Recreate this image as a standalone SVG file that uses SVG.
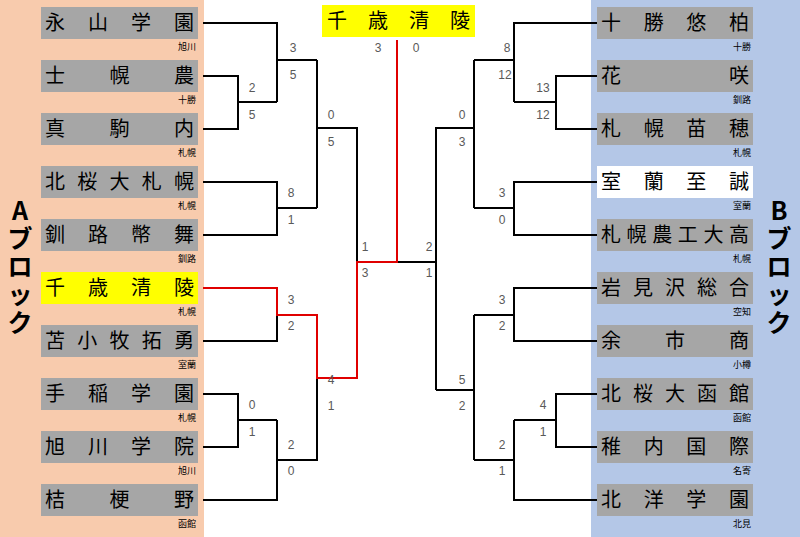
<svg xmlns="http://www.w3.org/2000/svg" width="800" height="537" viewBox="0 0 800 537">
<style>
.n{font-family:"Noto Sans CJK JP",sans-serif;font-size:20px;fill:#000}
.s{font-family:"Noto Sans CJK JP",sans-serif;font-size:9px;fill:#000;text-anchor:end}
.c{font-family:"Liberation Sans",sans-serif;font-size:12px;fill:#595959;text-anchor:middle}
.b{font-family:"Noto Sans CJK JP",sans-serif;font-size:25px;font-weight:bold;fill:#000;text-anchor:middle}
.l{fill:none;stroke:#000;stroke-width:2}
.r{fill:none;stroke:#e00000;stroke-width:2}
.g{fill:#a6a6a6}
</style>
<rect x="0" y="0" width="204" height="537" fill="#f8cbad"/>
<rect x="591" y="0" width="209" height="537" fill="#b4c7e7"/>
<g id="blockA"><text class="b" x="20" y="220">A</text><text class="b" x="20" y="248">ブ</text><text class="b" x="20" y="276">ロ</text><text class="b" x="20" y="304">ッ</text><text class="b" x="20" y="332">ク</text></g>
<g id="blockB"><text class="b" x="779" y="220">B</text><text class="b" x="779" y="248">ブ</text><text class="b" x="779" y="276">ロ</text><text class="b" x="779" y="304">ッ</text><text class="b" x="779" y="332">ク</text></g>
<g id="champ"><rect x="322" y="5" width="153" height="32" fill="#ffff00"/><text class="n" x="327" y="28" textLength="143" lengthAdjust="spacing">千歳清陵</text></g>
<g id="L1"><rect class="g" x="41" y="7" width="157" height="32"/><text class="n" x="45" y="30" textLength="149" lengthAdjust="spacing">永山学園</text><text class="s" x="196" y="50">旭川</text></g>
<g id="L2"><rect class="g" x="41" y="60" width="157" height="32"/><text class="n" x="45" y="83" textLength="149" lengthAdjust="spacing">士幌農</text><text class="s" x="196" y="103">十勝</text></g>
<g id="L3"><rect class="g" x="41" y="113" width="157" height="32"/><text class="n" x="45" y="136" textLength="149" lengthAdjust="spacing">真駒内</text><text class="s" x="196" y="156">札幌</text></g>
<g id="L4"><rect class="g" x="41" y="166" width="157" height="32"/><text class="n" x="45" y="189" textLength="149" lengthAdjust="spacing">北桜大札幌</text><text class="s" x="196" y="209">札幌</text></g>
<g id="L5"><rect class="g" x="41" y="219" width="157" height="32"/><text class="n" x="45" y="242" textLength="149" lengthAdjust="spacing">釧路幣舞</text><text class="s" x="196" y="262">釧路</text></g>
<g id="L6"><rect x="41" y="272" width="157" height="32" fill="#ffff00"/><text class="n" x="45" y="295" textLength="149" lengthAdjust="spacing">千歳清陵</text><text class="s" x="196" y="315">札幌</text></g>
<g id="L7"><rect class="g" x="41" y="325" width="157" height="32"/><text class="n" x="45" y="348" textLength="149" lengthAdjust="spacing">苫小牧拓勇</text><text class="s" x="196" y="368">室蘭</text></g>
<g id="L8"><rect class="g" x="41" y="378" width="157" height="32"/><text class="n" x="45" y="401" textLength="149" lengthAdjust="spacing">手稲学園</text><text class="s" x="196" y="421">札幌</text></g>
<g id="L9"><rect class="g" x="41" y="431" width="157" height="32"/><text class="n" x="45" y="454" textLength="149" lengthAdjust="spacing">旭川学院</text><text class="s" x="196" y="474">旭川</text></g>
<g id="L10"><rect class="g" x="41" y="484" width="157" height="32"/><text class="n" x="45" y="507" textLength="149" lengthAdjust="spacing">桔梗野</text><text class="s" x="196" y="527">函館</text></g>
<g id="R1"><rect class="g" x="597" y="7" width="156" height="32"/><text class="n" x="601" y="30" textLength="148" lengthAdjust="spacing">十勝悠柏</text><text class="s" x="751" y="50">十勝</text></g>
<g id="R2"><rect class="g" x="597" y="60" width="156" height="32"/><text class="n" x="601" y="83" textLength="148" lengthAdjust="spacing">花咲</text><text class="s" x="751" y="103">釧路</text></g>
<g id="R3"><rect class="g" x="597" y="113" width="156" height="32"/><text class="n" x="601" y="136" textLength="148" lengthAdjust="spacing">札幌苗穂</text><text class="s" x="751" y="156">札幌</text></g>
<g id="R4"><rect x="597" y="166" width="156" height="32" fill="#fff"/><text class="n" x="601" y="189" textLength="148" lengthAdjust="spacing">室蘭至誠</text><text class="s" x="751" y="209">室蘭</text></g>
<g id="R5"><rect class="g" x="597" y="219" width="156" height="32"/><text class="n" x="601" y="242" textLength="148" lengthAdjust="spacing">札幌農工大高</text><text class="s" x="751" y="262">札幌</text></g>
<g id="R6"><rect class="g" x="597" y="272" width="156" height="32"/><text class="n" x="601" y="295" textLength="148" lengthAdjust="spacing">岩見沢総合</text><text class="s" x="751" y="315">空知</text></g>
<g id="R7"><rect class="g" x="597" y="325" width="156" height="32"/><text class="n" x="601" y="348" textLength="148" lengthAdjust="spacing">余市商</text><text class="s" x="751" y="368">小樽</text></g>
<g id="R8"><rect class="g" x="597" y="378" width="156" height="32"/><text class="n" x="601" y="401" textLength="148" lengthAdjust="spacing">北桜大函館</text><text class="s" x="751" y="421">函館</text></g>
<g id="R9"><rect class="g" x="597" y="431" width="156" height="32"/><text class="n" x="601" y="454" textLength="148" lengthAdjust="spacing">稚内国際</text><text class="s" x="751" y="474">名寄</text></g>
<g id="R10"><rect class="g" x="597" y="484" width="156" height="32"/><text class="n" x="601" y="507" textLength="148" lengthAdjust="spacing">北洋学園</text><text class="s" x="751" y="527">北見</text></g>
<g id="connectors">
<path class="l" d="M203 76H238V129H203M238 102H277M203 23H277V102M277 60H317M203 182H277V235H203M277 208H317M317 60V208M317 128H357V262"/>
<path class="l" d="M203 341H277V315M203 394H238V447H203M238 420H277M203 500H277V420M277 460H317V378M357 262H436"/>
<path class="r" d="M203 288H277V315H317V378H357V262H397V40"/>
<path class="l" d="M597 76H556V129H597M556 102H514M597 23H514V102M514 60H474M597 182H514V235H597M514 208H474M474 60V208M474 128H436V390"/>
<path class="l" d="M597 288H514V341H597M514 315H474M597 394H556V447H597M556 420H514M597 500H514V420M514 460H474M474 315V460M474 390H436"/>
</g>
<g id="scores">
<text class="c" x="293" y="52">3</text><text class="c" x="293" y="79">5</text>
<text class="c" x="252" y="92">2</text><text class="c" x="252" y="119">5</text>
<text class="c" x="291" y="197">8</text><text class="c" x="291" y="224">1</text>
<text class="c" x="331" y="119">0</text><text class="c" x="331" y="146">5</text>
<text class="c" x="291" y="304">3</text><text class="c" x="291" y="330">2</text>
<text class="c" x="252" y="409">0</text><text class="c" x="252" y="436">1</text>
<text class="c" x="291" y="449">2</text><text class="c" x="291" y="475">0</text>
<text class="c" x="331" y="384">4</text><text class="c" x="331" y="410">1</text>
<text class="c" x="365" y="251">1</text><text class="c" x="365" y="277">3</text>
<text class="c" x="429" y="251">2</text><text class="c" x="429" y="277">1</text>
<text class="c" x="378" y="52">3</text><text class="c" x="416" y="52">0</text>
<text class="c" x="507" y="52">8</text><text class="c" x="505" y="79">12</text>
<text class="c" x="543" y="92">13</text><text class="c" x="543" y="119">12</text>
<text class="c" x="502" y="197">3</text><text class="c" x="502" y="224">0</text>
<text class="c" x="462" y="119">0</text><text class="c" x="462" y="146">3</text>
<text class="c" x="502" y="304">3</text><text class="c" x="502" y="330">2</text>
<text class="c" x="543" y="409">4</text><text class="c" x="543" y="436">1</text>
<text class="c" x="502" y="449">2</text><text class="c" x="502" y="475">1</text>
<text class="c" x="462" y="384">5</text><text class="c" x="462" y="410">2</text>
</g>
</svg>
